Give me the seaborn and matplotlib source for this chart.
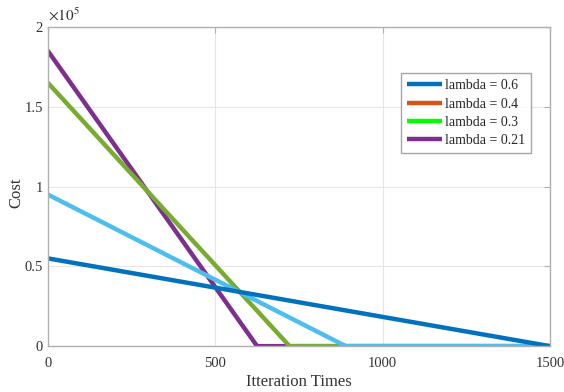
import numpy as np
import pandas as pd
import matplotlib
matplotlib.use("Agg")
import matplotlib.pyplot as plt
import seaborn as sns
from matplotlib.lines import Line2D
from matplotlib.ticker import FuncFormatter

# series: breakpoints (iteration) and cost
dark_x = [0, 1500]
dark_y = [55000, 0]
light_x = [0, 890, 1500]
light_y = [95000, 0, 0]
green_x = [0, 722, 1500]
green_y = [165000, 0, 0]
purple_x = [0, 625, 1500]
purple_y = [185000, 0, 0]

legend_labels = ["lambda = 0.6", "lambda = 0.4", "lambda = 0.3", "lambda = 0.21"]
legend_colors = ["#0072BD", "#D95319", "#00FF00", "#7E2F8E"]

sns.set_style("white")
plt.rcParams["font.family"] = ["Liberation Serif", "DejaVu Serif"]
plt.rcParams["mathtext.fontset"] = "stix"

fig = plt.figure(figsize=(5.64, 3.92), dpi=100)
ax = fig.add_axes([0.085, 0.117, 0.890, 0.814])

lw = 3.2
sns.lineplot(x=purple_x, y=purple_y, color="#7E2F8E", lw=lw, ax=ax)
sns.lineplot(x=green_x, y=green_y, color="#77AC30", lw=lw, ax=ax)
sns.lineplot(x=light_x, y=light_y, color="#4DBEEE", lw=lw, ax=ax)
sns.lineplot(x=dark_x, y=dark_y, color="#0072BD", lw=lw, ax=ax)

ax.set_xlim(0, 1500)
ax.set_ylim(0, 200000)
ax.set_xticks([0, 500, 1000, 1500])
ax.set_yticks([0, 50000, 100000, 150000, 200000])
ax.yaxis.set_major_formatter(FuncFormatter(lambda v, p: "%g" % (v / 1e5)))
ax.grid(True, color="#e6e6e6", lw=0.8)
for s in ax.spines.values():
    s.set_color("#b0b0b0")
    s.set_linewidth(1.0)
ax.tick_params(direction="in", length=4, colors="#b0b0b0", labelcolor="#333333", labelsize=10.5,
               top=True, right=True)
ax.tick_params(axis="x", pad=8)
ax.set_xlabel("Itteration Times", fontsize=12, color="#333333", labelpad=3)
ax.set_ylabel("Cost", fontsize=12, color="#333333")
ax.yaxis.set_label_coords(-0.047, 0.48)
ax.text(0.0, 1.01, r"$\times10^5$", transform=ax.transAxes, fontsize=11, color="#333333",
        ha="left", va="bottom")

handles = [Line2D([0], [0], color=c, lw=lw, solid_capstyle="butt") for c in legend_colors]
leg = ax.legend(handles, legend_labels, loc="upper left", bbox_to_anchor=(0.703, 0.856),
                borderaxespad=0, fontsize=10, frameon=True, fancybox=False, handlelength=2.5,
                handletextpad=0.2, labelspacing=0.38, borderpad=0.45)
leg.get_frame().set_edgecolor("#909090")
leg.get_frame().set_linewidth(1.0)

fig.savefig("out.png", dpi=100)
